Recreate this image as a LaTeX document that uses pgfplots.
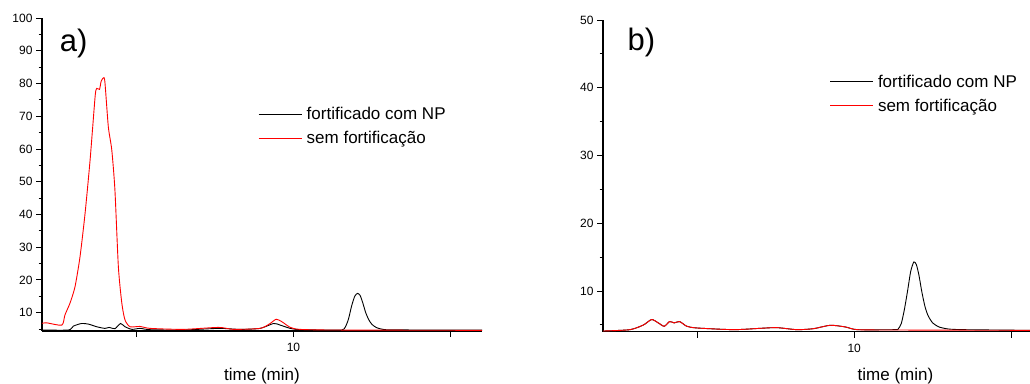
\documentclass[border=0pt]{standalone}
\usepackage{fontspec}
\setmainfont{Liberation Sans}
\usepackage{pgfplots}
\pgfplotsset{compat=1.18}
\begin{document}
\begin{tikzpicture}
\useasboundingbox (0pt,0pt) rectangle (1030pt,383pt);
\pgfplotsset{
  chrom/.style={
    scale only axis,
    anchor=south west,
    axis x line*=bottom, axis y line*=left,
    axis line style={line width=1.1pt},
    tick style={line width=0.9pt, black},
    tick align=outside,
    major tick length=6pt, minor tick length=3.5pt,
    xmin=2,
    xtick={5,10,15}, xticklabels={,10,},
    tick label style={font=\fontsize{12}{12}\selectfont},
    xticklabel style={yshift=-3pt},
    /pgf/number format/assume math mode=true,
    xlabel={time (min)},
    label style={font=\fontsize{17}{17}\selectfont},
    xlabel style={yshift=-9pt},
    legend cell align=left,
    legend style={draw=none, fill=none, anchor=north west,
      font=\fontsize{17}{17}\selectfont, row sep=6pt, inner sep=0pt,
      /tikz/every odd column/.append style={column sep=2.5pt}},
    legend image code/.code={\draw[#1, line width=1pt] (0pt,0pt) -- (43pt,0pt);},
  }
}
% panel a
\begin{axis}[chrom, at={(42pt,52pt)}, width=440pt, height=313pt,
  xmax=16, ymin=4.4, ymax=100,
  ytick={10,20,...,100}, minor ytick={5,15,...,95},
  legend style={at={(0.491,0.721)}}]
\addplot[black, line width=0.9pt, smooth, tension=0.4] coordinates {
  (2.0,4.7) (2.84,4.7) (3.0,5.9) (3.26,6.7) (3.48,6.5) (3.74,5.7) (4.0,5.2)
  (4.14,5.5) (4.32,5.1) (4.5,6.7) (4.64,5.7) (4.86,4.9) (5.12,5.2) (5.44,4.8)
  (6.5,4.7) (7.62,5.2) (8.3,4.9) (8.94,5.2) (9.37,6.7) (9.58,6.2) (9.9,5.2)
  (10.2,4.8) (11.0,4.7) (11.54,4.7) (11.65,5.6) (11.75,8.0) (11.85,12.0)
  (11.95,15.0) (12.04,15.9) (12.12,15.3) (12.2,13.2) (12.3,10.0) (12.4,7.8)
  (12.5,6.4) (12.65,5.4) (12.85,4.9) (13.1,4.75) (14.5,4.7) (16.0,4.7)
};
\addplot[red, line width=0.9pt, smooth, tension=0.4] coordinates {
  (2.0,6.74) (2.15,6.9) (2.63,6.2) (2.73,9.3) (2.89,12.9) (3.05,17.9)
  (3.21,27.1) (3.37,40.3) (3.53,56.6) (3.69,76.0) (3.74,78.5) (3.83,78.2)
  (3.88,80.6) (3.95,81.7) (4.0,80.6) (4.11,66.8) (4.22,59.7) (4.32,47.5)
  (4.43,24.0) (4.54,12.9) (4.64,7.8) (4.8,5.7) (5.12,5.8) (5.44,5.2)
  (6.5,4.9) (7.62,5.5) (8.09,4.9) (8.94,5.2) (9.26,6.7) (9.45,8.0)
  (9.63,7.25) (9.9,5.5) (10.2,4.9) (11.28,4.7) (16.0,4.6)
};
\legend{fortificado com NP, sem fortificação}
\node[font=\fontsize{31}{31}\selectfont] at (rel axis cs:0.072,0.92) {a)};
\end{axis}
% panel b
\begin{axis}[chrom, at={(603pt,51.3pt)}, width=427pt, height=311.7pt,
  xmax=15.6, ymin=4.0, ymax=50,
  ytick={10,20,...,50}, minor ytick={5,15,...,45},
  xlabel style={at={(ticklabel cs:0.685)}},
  legend style={at={(0.53,0.831)}}]
\addplot[black, line width=0.9pt, smooth, tension=0.4] coordinates {
  (2.0,4.1) (2.86,4.3) (3.29,5.0) (3.55,5.8) (3.76,5.3) (3.95,4.8) (4.12,5.5)
  (4.27,5.3) (4.44,5.5) (4.67,4.8) (4.99,4.55) (6.16,4.3) (7.01,4.5)
  (7.54,4.6) (8.18,4.3) (8.71,4.45) (9.24,4.95) (9.72,4.7) (10.1,4.3)
  (11.3,4.3) (11.4,4.4) (11.5,5.2) (11.6,7.3) (11.7,10.0) (11.8,12.9)
  (11.9,14.3) (11.98,13.9) (12.06,12.4) (12.15,10.0) (12.25,7.8) (12.35,6.4)
  (12.5,5.3) (12.7,4.7) (13.0,4.4) (13.5,4.3) (15.6,4.2)
};
\addplot[red, line width=0.9pt, smooth, tension=0.4] coordinates {
  (2.0,4.1) (2.86,4.3) (3.29,5.0) (3.55,5.8) (3.76,5.3) (3.95,4.8) (4.12,5.5)
  (4.27,5.3) (4.44,5.5) (4.67,4.8) (4.99,4.55) (6.16,4.3) (7.01,4.5)
  (7.54,4.6) (8.18,4.3) (8.71,4.45) (9.24,4.95) (9.72,4.7) (10.1,4.3)
  (11.3,4.25) (15.6,4.2)
};
\legend{fortificado com NP, sem fortificação}
\node[font=\fontsize{31}{31}\selectfont] at (rel axis cs:0.09,0.929) {b)};
\end{axis}
\end{tikzpicture}
\end{document}
